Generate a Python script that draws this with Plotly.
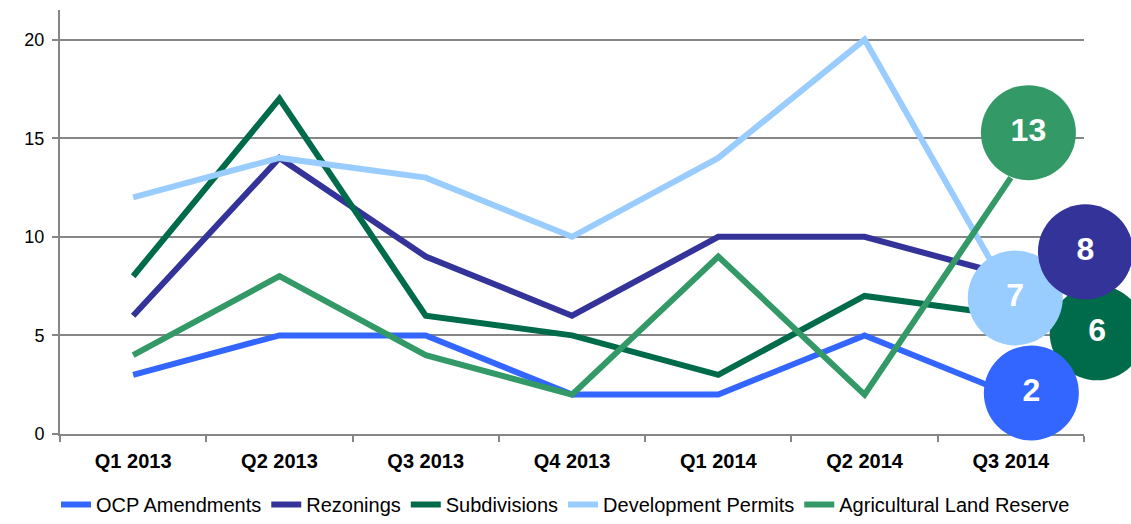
import plotly.graph_objects as go

quarters = ["Q1 2013", "Q2 2013", "Q3 2013", "Q4 2013", "Q1 2014", "Q2 2014", "Q3 2014"]
series_names = ["OCP Amendments", "Rezonings", "Subdivisions", "Development Permits", "Agricultural Land Reserve"]
ocp = [3, 5, 5, 2, 2, 5, 2]
rezonings = [6, 14, 9, 6, 10, 10, 8]
subdivisions = [8, 17, 6, 5, 3, 7, 6]
dev_permits = [12, 14, 13, 10, 14, 20, 7]
alr = [4, 8, 4, 2, 9, 2, 13]

colors = ["#3366FF", "#333399", "#006B4A", "#99CCFF", "#339966"]
values = [ocp, rezonings, subdivisions, dev_permits, alr]

# label bubble offsets (placement) relative to final point: (dx in categories, dy in data units)
label_offsets = [(0.14, 0.08), (0.51, 1.24), (0.59, -0.87), (0.03, -0.1), (0.12, 2.28)]
label_order = [2, 3, 1, 0, 4]

W, H = 1131, 524
ml, mr, mt, mb = 60, 0, 10, 90
plot_right_px = 1084
main_frac = (plot_right_px - ml) / (W - ml - mr)
x_lo, x_hi = -0.5, len(quarters) - 0.5
x2_hi = x_lo + (x_hi - x_lo) / main_frac
y_range = [0, 21.5]

xs = list(range(len(quarters)))
fig = go.Figure()
for name, vals, col in zip(series_names, values, colors):
    fig.add_trace(go.Scatter(x=xs, y=vals, mode="lines", name=name,
                             line=dict(color=col, width=6)))

for i in label_order:
    vals = values[i]
    dx, dy = label_offsets[i]
    fig.add_trace(go.Scatter(
        x=[xs[-1] + dx], y=[vals[-1] + dy], mode="markers+text", xaxis="x2", yaxis="y2",
        marker=dict(size=95, color=colors[i], line=dict(width=0)),
        text=[str(vals[-1])], textposition="middle center",
        textfont=dict(family="Liberation Sans, Arial", size=32, color="white", weight="bold"),
        showlegend=False, cliponaxis=False, hoverinfo="skip"))

grey = "#868686"
fig.update_layout(
    width=W, height=H,
    margin=dict(l=ml, r=mr, t=mt, b=mb),
    paper_bgcolor="white", plot_bgcolor="rgba(0,0,0,0)",
    font=dict(family="Liberation Sans, Arial", size=18, color="black"),
    showlegend=True,
    legend=dict(orientation="h", x=0.5, xanchor="center", xref="container",
                y=0.0, yanchor="bottom", yref="container",
                font=dict(size=20), itemwidth=30, tracegroupgap=0),
    xaxis=dict(domain=[0, main_frac], range=[x_lo, x_hi], tickmode="array", tickvals=xs,
               ticktext=quarters, ticks="", showgrid=False, zeroline=False, showline=True,
               linecolor=grey, linewidth=2, automargin=False, ticklabelstandoff=8,
               tickfont=dict(size=20, weight="bold"),
               minor=dict(tickmode="array", tickvals=[x - 0.5 for x in range(len(quarters) + 1)],
                          ticks="outside", ticklen=6, tickwidth=2, tickcolor=grey, showgrid=False)),
    xaxis2=dict(domain=[0, 1], range=[x_lo, x2_hi], anchor="y2",
                visible=False, showgrid=False, zeroline=False),
    yaxis=dict(range=y_range, tickmode="array", tickvals=[0, 5, 10, 15, 20],
               ticks="outside", ticklen=6, tickwidth=2, tickcolor=grey, ticklabelstandoff=4,
               showgrid=True, gridcolor=grey, gridwidth=2, zeroline=False, automargin=False,
               showline=True, linecolor=grey, linewidth=2, tickfont=dict(size=18)),
    yaxis2=dict(domain=[0, 1], range=y_range, anchor="x2", visible=False,
                showgrid=False, zeroline=False),
)
fig.write_html("out.html", config={"displayModeBar": False},
               post_script="document.body.style.margin='0px';")
